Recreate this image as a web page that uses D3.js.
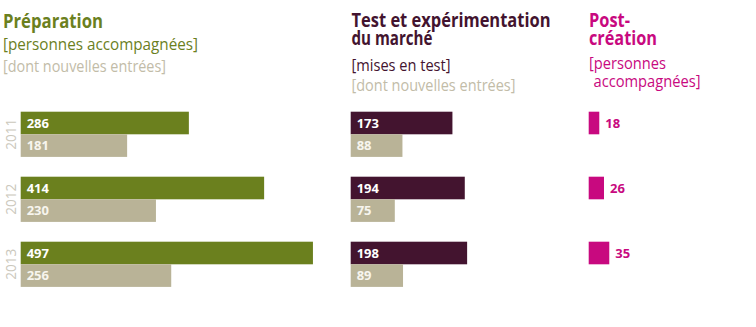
<!DOCTYPE html>
<html><head><meta charset="utf-8">
<script src="https://cdn.jsdelivr.net/npm/d3@7"></script>
<style>
html,body{margin:0;padding:0;background:#fff;}
svg{display:block;font-family:"Open Sans",sans-serif;}
</style></head>
<body><svg id="c" width="756" height="327"></svg>
<script>
const years = ["2011", "2012", "2013"];
const prepTotal = [286, 414, 497];
const prepNew = [181, 230, 256];
const testTotal = [173, 194, 198];
const testNew = [88, 75, 89];
const postTotal = [18, 26, 35];

const colors = {green:"#6b801e", tan:"#b9b397", plum:"#43142f", pink:"#c8097f", year:"#cbc8bc", tanText:"#c2bca8"};

const svg = d3.select("#c");
const x = d3.scaleLinear().domain([0, 100]).range([0, 58.8]);
const yBand = d3.scaleBand().domain(years).range([111.7, 306.7]).paddingInner(0).paddingOuter(0);
const barH = 22.6;

function titleBlock(x0, lines){
  lines.forEach(l=>{
    svg.append("text").attr("x", l.x != null ? l.x : x0).attr("y", l.y).text(l.t)
      .attr("fill", l.c).attr("font-size", l.s).attr("font-weight", l.b?700:400)
      .attr("textLength", l.w).attr("lengthAdjust","spacingAndGlyphs");
  });
}
titleBlock(3, [
  {t:"Préparation", y:28, c:colors.green, s:19, b:true, w:100},
  {t:"[personnes accompagnées]", y:49.5, c:colors.green, s:16, w:195},
  {t:"[dont nouvelles entrées]", y:71.5, c:colors.tanText, s:16, w:163}
]);
titleBlock(351.5, [
  {t:"Test et expérimentation", y:27, c:colors.plum, s:19, b:true, w:199},
  {t:"du marché", y:45, c:colors.plum, s:19, b:true, w:81},
  {t:"[mises en test]", y:70.5, c:colors.plum, s:16, w:99},
  {t:"[dont nouvelles entrées]", y:90.5, c:colors.tanText, s:16, w:164}
]);
titleBlock(589, [
  {t:"Post-", y:27, c:colors.pink, s:19, b:true, w:41},
  {t:"création", y:45, c:colors.pink, s:19, b:true, w:68},
  {t:"[personnes", y:68.5, c:colors.pink, s:16, w:77},
  {t:"accompagnées]", y:86.5, c:colors.pink, s:16, w:107, x:593.5}
]);

// year labels
svg.selectAll(".yr").data(years).join("text").attr("class","yr")
  .attr("transform", d=>`translate(16,${yBand(d)+barH})rotate(-90)`)
  .attr("text-anchor","middle").attr("font-size",15).attr("fill",colors.year)
  .attr("textLength",31).attr("lengthAdjust","spacingAndGlyphs")
  .text(d=>d);

function group(x0, totals, news, topColor){
  years.forEach((yr,i)=>{
    const y0 = yBand(yr);
    svg.append("rect").attr("x",x0).attr("y",y0).attr("width",x(totals[i])).attr("height",barH).attr("fill",topColor);
    svg.append("text").attr("x",x0+6).attr("y",y0+barH/2+4.6).attr("fill","#fff")
      .attr("font-weight",700).attr("font-size",13).text(totals[i]);
    if(news){
      svg.append("rect").attr("x",x0).attr("y",y0+barH).attr("width",x(news[i])).attr("height",barH).attr("fill",colors.tan);
      svg.append("text").attr("x",x0+6).attr("y",y0+barH*1.5+4.6).attr("fill","#f7f5ee")
        .attr("font-weight",700).attr("font-size",13).text(news[i]);
    }
  });
}
group(20.7, prepTotal, prepNew, colors.green);
group(350.7, testTotal, testNew, colors.plum);

// post-creation
years.forEach((yr,i)=>{
  const y0 = yBand(yr);
  svg.append("rect").attr("x",588.7).attr("y",y0).attr("width",x(postTotal[i])).attr("height",barH).attr("fill",colors.pink);
  svg.append("text").attr("x",588.7+x(postTotal[i])+6).attr("y",y0+barH/2+4.6).attr("fill",colors.pink)
    .attr("font-weight",700).attr("font-size",13).text(postTotal[i]);
});
</script></body></html>
